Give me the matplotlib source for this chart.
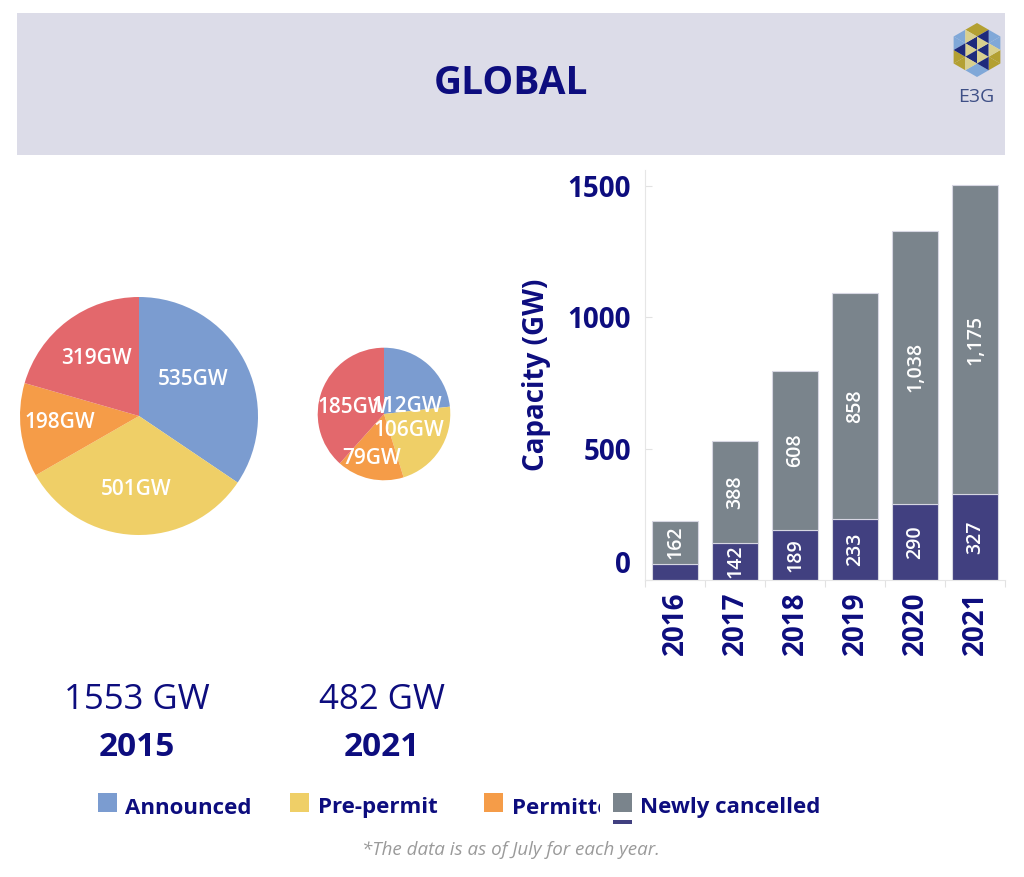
import numpy as np
import matplotlib
matplotlib.use("Agg")
import matplotlib.pyplot as plt
from matplotlib.patches import Rectangle, Polygon
from matplotlib.transforms import ScaledTranslation

plt.rcParams["font.family"] = ["Open Sans", "DejaVu Sans"]

# ---- data ----
stages = ["Announced", "Pre-permit", "Permitted", "Construction"]
pie_years = ["2015", "2021"]
pipeline_2015 = [535, 501, 198, 319]
pipeline_2021 = [112, 106, 79, 185]

bar_years = ["2016", "2017", "2018", "2019", "2020", "2021"]
cancelled_cum = [62, 142, 189, 233, 290, 327]     # navy part
cancelled_new = [162, 388, 608, 858, 1038, 1175]  # grey part

NAVY = "#0d0d7e"
STAGE_COLORS = ["#7b9cd0", "#efcf67", "#f59c48", "#e3686c"]
GREY = "#7a848c"
BAR_NAVY = "#414080"

W, H = 1024, 877
fig = plt.figure(figsize=(W / 100, H / 100), dpi=100)

# overlay in pixel coordinates (y measured from the top via Y())
ov = fig.add_axes([0, 0, 1, 1])
ov.set_xlim(0, W)
ov.set_ylim(0, H)
ov.axis("off")


def Y(y):
    return H - y


# header band
ov.add_patch(Rectangle((17, Y(155)), 988, 142, color="#dcdce8", lw=0))
ov.text(511, Y(84), "GLOBAL", ha="center", va="center", fontsize=28,
        fontweight="bold", color=NAVY)


# E3G logo: hexagon of small triangles
def draw_logo(cx, cy, r, n=2):
    cols = {"navy": "#1e2a7c", "olive": "#b3a032", "blue": "#80a8d8", "tan": "#d9d08e"}
    corners = [(cx + r * np.cos(np.radians(90 + 60 * k)),
                cy + r * np.sin(np.radians(90 + 60 * k))) for k in range(6)]
    c = np.array([cx, cy])
    for k in range(6):
        a = np.array(corners[k]) - c
        b = np.array(corners[(k + 1) % 6]) - c
        P = lambda i, j: c + a * i / n + b * j / n
        tris = [
            ([P(0, 0), P(1, 0), P(0, 1)], "navy" if k % 2 == 0 else "tan"),
            ([P(1, 0), P(2, 0), P(1, 1)], "olive" if k % 2 == 0 else "blue"),
            ([P(0, 1), P(1, 1), P(0, 2)], "blue" if k % 2 == 0 else "olive"),
            ([P(1, 0), P(1, 1), P(0, 1)], "tan" if k % 2 == 0 else "navy"),
        ]
        for pts, col in tris:
            ov.add_patch(Polygon(pts, closed=True, color=cols[col], lw=0))


draw_logo(977, Y(50), 27)
ov.text(976, Y(97), "E3G", ha="center", va="center", fontsize=14, color="#3e4f86")

# ---- pies ----
R1 = 119
totals = [sum(pipeline_2015), sum(pipeline_2021)]
radii = [R1, R1 * np.sqrt(totals[1] / totals[0])]
centers = [(139, Y(416)), (384, Y(414))]
# label placement: fraction along the wedge (clockwise) and radial distance
label_frac = [[0.45, 0.5, 0.55, 0.5], [0.87, 0.5, 0.55, 0.43]]
label_dist = [[0.55, 0.62, 0.67, 0.6], [0.36, 0.45, 0.7, 0.48]]

for vals, (cx, cy), r, fracs, dists, yr, tot in zip(
        [pipeline_2015, pipeline_2021], centers, radii, label_frac, label_dist,
        pie_years, totals):
    wedges, _ = ov.pie(vals, colors=STAGE_COLORS, startangle=90, counterclock=False,
                       center=(cx, cy), radius=r, frame=True,
                       wedgeprops=dict(lw=0))
    for w, v, f, d in zip(wedges, vals, fracs, dists):
        ang = np.radians(w.theta2 - f * (w.theta2 - w.theta1))
        ov.text(cx + d * r * np.cos(ang), cy + d * r * np.sin(ang), f"{v}GW",
                ha="center", va="center", color="white", fontsize=15,
                fontweight="semibold")
    ov.text(cx - 2, Y(700), f"{tot} GW", ha="center", va="center", fontsize=25,
            color=NAVY)
    ov.text(cx - 2, Y(747), yr, ha="center", va="center", fontsize=24,
            fontweight="bold", color=NAVY)

ov.set_xlim(0, W)
ov.set_ylim(0, H)
ov.set_aspect("auto")
ov.axis("off")

# ---- bars ----
ax = fig.add_axes([645 / W, 1 - 580 / H, 360 / W, 410 / H])
x = np.arange(len(bar_years))
ax.bar(x, cancelled_cum, width=0.77, color=BAR_NAVY, edgecolor="#d6d6e2", lw=0.8)
ax.bar(x, cancelled_new, width=0.77, bottom=cancelled_cum, color=GREY,
       edgecolor="#d6d6e2", lw=0.8)
for xi, a, b in zip(x, cancelled_cum, cancelled_new):
    if a > 100:
        ax.text(xi, a / 2, f"{a:,}", rotation=90, ha="center", va="center",
                color="white", fontsize=14, fontweight="semibold")
    ax.text(xi, a + b / 2, f"{b:,}", rotation=90, ha="center", va="center",
            color="white", fontsize=14, fontweight="semibold")

ax.set_xlim(-0.48, 5.5)
ax.set_ylim(0, 1560)
ax.set_yticks([0, 500, 1000, 1500])
ax.set_xticks(x)
ax.set_xticklabels(bar_years, rotation=90)
ax.set_xticks(np.arange(-0.5, 6, 1), minor=True)
ax.tick_params(axis="x", which="major", length=0, pad=8, labelsize=20,
               labelcolor=NAVY)
ax.tick_params(axis="x", which="minor", length=5, color="#e2e2e2", width=0.8)
ax.tick_params(axis="y", direction="in", length=5, color="#e2e2e2", pad=10,
               labelsize=20, labelcolor=NAVY)
for lab in ax.get_xticklabels() + ax.get_yticklabels():
    lab.set_fontweight("bold")
zero = ax.get_yticklabels()[0]
zero.set_transform(zero.get_transform() + ScaledTranslation(0, 0.18, fig.dpi_scale_trans))
ax.set_ylabel("Capacity (GW)", fontsize=20, fontweight="bold", color=NAVY, labelpad=12)
for s in ["top", "right"]:
    ax.spines[s].set_visible(False)
for s in ["left", "bottom"]:
    ax.spines[s].set_color("#e6e6e6")
    ax.spines[s].set_linewidth(0.8)

# ---- legend ----
leg_x = [98, 290, 484]
leg_text_x = [125, 318, 512]
for lx, tx, c, name in zip(leg_x, leg_text_x, STAGE_COLORS, stages[:3]):
    ov.add_patch(Rectangle((lx, Y(812)), 19, 19, color=c, lw=0))
    ov.text(tx, Y(808), name, ha="left", va="center", fontsize=16,
            fontweight="bold", color=NAVY, zorder=3)
# the third legend label is cut off where the next entry starts
ov.add_patch(Rectangle((600, Y(830)), 40, 45, color="white", lw=0, zorder=4))
ov.add_patch(Rectangle((613, Y(812)), 19, 19, color=GREY, lw=0, zorder=5))
ov.add_patch(Rectangle((613, Y(824)), 19, 4, color=BAR_NAVY, lw=0, zorder=5))
ov.text(640, Y(808), "Newly cancelled", ha="left", va="center", fontsize=16,
        fontweight="bold", color=NAVY, zorder=5)

ov.text(511, Y(850), "*The data is as of July for each year.", ha="center",
        va="center", fontsize=13.5, style="italic", color="#9a9a9a")

fig.savefig("out.png", dpi=100)
